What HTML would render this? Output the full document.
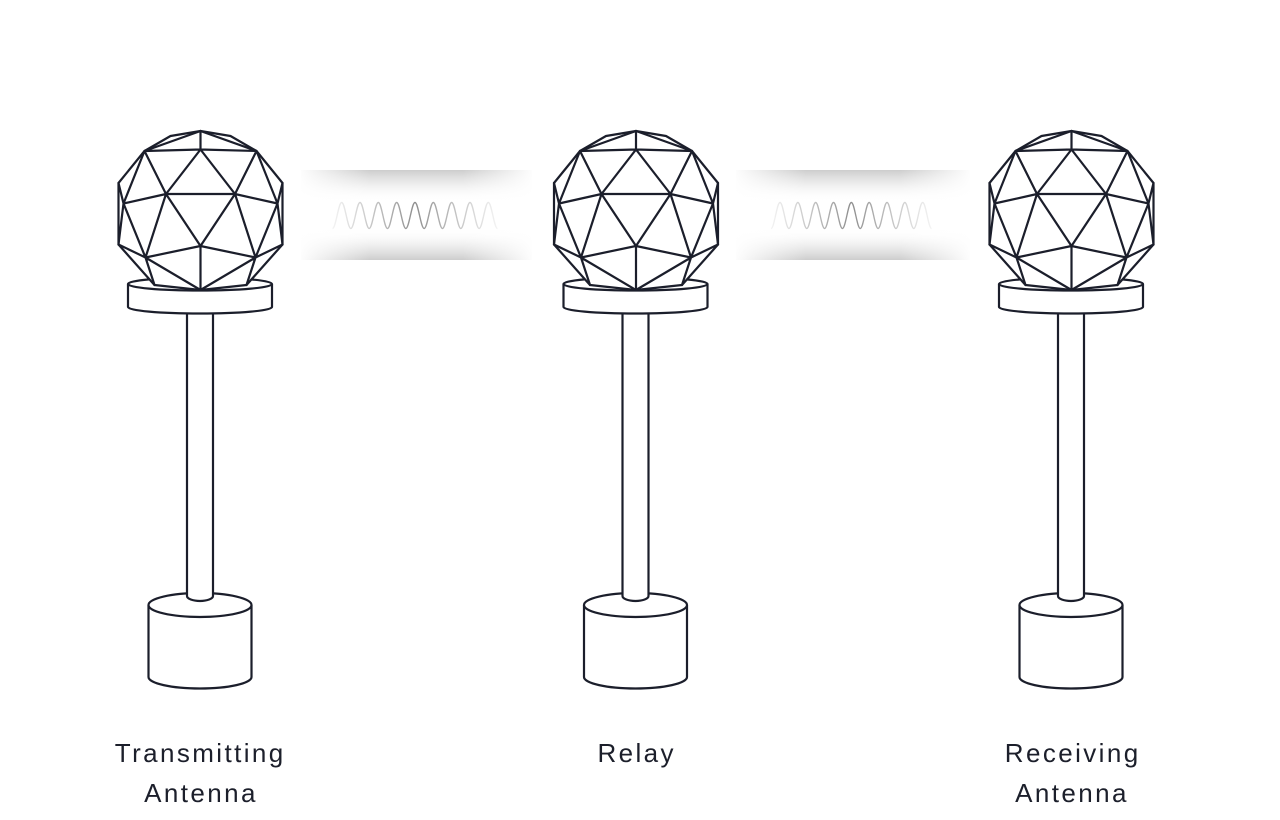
<!DOCTYPE html>
<html>
<head>
<meta charset="utf-8">
<style>
  html, body { margin: 0; padding: 0; background: #ffffff; }
  body { width: 1280px; height: 820px; overflow: hidden; }
  svg { display: block; }
  .lbl { font-family: "Liberation Sans", "DejaVu Sans", sans-serif; font-size: 26px; letter-spacing: 2.4px; fill: #1c1f2b; }
</style>
</head>
<body>
<svg width="1280" height="820" viewBox="0 0 1280 820" xmlns="http://www.w3.org/2000/svg">
  <defs>
    <linearGradient id="topBand" x1="0" y1="0" x2="0" y2="1">
      <stop offset="0" stop-color="#c4c4c4" stop-opacity="0.85"/>
      <stop offset="0.45" stop-color="#d8d8d8" stop-opacity="0.45"/>
      <stop offset="1" stop-color="#ffffff" stop-opacity="0"/>
    </linearGradient>
    <linearGradient id="botBand" x1="0" y1="1" x2="0" y2="0">
      <stop offset="0" stop-color="#c4c4c4" stop-opacity="0.85"/>
      <stop offset="0.45" stop-color="#d8d8d8" stop-opacity="0.45"/>
      <stop offset="1" stop-color="#ffffff" stop-opacity="0"/>
    </linearGradient>
    <linearGradient id="whiteEdges" x1="0" y1="0" x2="1" y2="0">
      <stop offset="0" stop-color="#ffffff" stop-opacity="0.96"/>
      <stop offset="0.08" stop-color="#ffffff" stop-opacity="0.7"/>
      <stop offset="0.3" stop-color="#ffffff" stop-opacity="0"/>
      <stop offset="0.7" stop-color="#ffffff" stop-opacity="0"/>
      <stop offset="0.92" stop-color="#ffffff" stop-opacity="0.7"/>
      <stop offset="1" stop-color="#ffffff" stop-opacity="0.96"/>
    </linearGradient>
    <linearGradient id="waveG" gradientUnits="userSpaceOnUse" x1="330" y1="0" x2="500" y2="0">
      <stop offset="0" stop-color="#8a8a8a" stop-opacity="0.08"/>
      <stop offset="0.5" stop-color="#7a7a7a" stop-opacity="0.85"/>
      <stop offset="1" stop-color="#8a8a8a" stop-opacity="0.08"/>
    </linearGradient>

    <g id="sphere">
      <path d="M0,131 L30,136 L56,151 L82,183 L82,244.5 L46,285 L0,290 L-46,285 L-82,244.5 L-82,183 L-56,151 L-30,136 Z" fill="#ffffff" stroke="#1b1e2b" stroke-width="2.2" stroke-linejoin="round"/>
      <path fill="none" stroke="#1b1e2b" stroke-width="2.2" stroke-linejoin="round" stroke-linecap="round" d="
        M0,131 L-56,151 M0,131 L56,151 M0,131 L0,149.5
        M-56,151 L0,149.5 L56,151
        M0,149.5 L-34.5,194 M0,149.5 L34.5,194
        M-56,151 L-34.5,194 M56,151 L34.5,194
        M-34.5,194 L34.5,194
        M-56,151 L-77,203.5 M56,151 L77,203.5
        M-82,183 L-77,203.5 L-82,244.5 M82,183 L77,203.5 L82,244.5
        M-34.5,194 L-77,203.5 M34.5,194 L77,203.5
        M-77,203.5 L-55,257.5 M77,203.5 L55,257.5
        M-34.5,194 L-55,257.5 M34.5,194 L55,257.5
        M-34.5,194 L0,246 L34.5,194
        M-55,257.5 L0,246 L55,257.5
        M0,246 L0,290
        M-55,257.5 L0,290 M55,257.5 L0,290
        M-55,257.5 L-46,285 M55,257.5 L46,285
        M-82,244.5 L-55,257.5 M82,244.5 L55,257.5
      "/>
    </g>

    <g id="antenna">
      <path d="M-51.5,605 L-51.5,677 A51.5,11.5 0 0 0 51.5,677 L51.5,605" fill="#ffffff" stroke="#1b1e2b" stroke-width="2.2" stroke-linejoin="round"/>
      <ellipse cx="0" cy="605" rx="51.5" ry="12" fill="#ffffff" stroke="#1b1e2b" stroke-width="2.2"/>
      <path d="M-13,300 L-13,596 A13,5 0 0 0 13,596 L13,300 Z" fill="#ffffff" stroke="#1b1e2b" stroke-width="2.2" stroke-linejoin="round"/>
      <path d="M-72,284 L-72,307 A72,6.5 0 0 0 72,307 L72,284" fill="#ffffff" stroke="#1b1e2b" stroke-width="2.2" stroke-linejoin="round"/>
      <ellipse cx="0" cy="284" rx="72" ry="6.5" fill="#ffffff" stroke="#1b1e2b" stroke-width="2.2"/>
      <use href="#sphere" x="0.5" y="0"/>
    </g>

    <path id="wave" fill="none" stroke-width="1.4" d="M332.5,228.5
      C335.84,228.5 338.33,202.5 341.67,202.5
      C345.01,202.5 347.49,228.5 350.83,228.5
      C354.17,228.5 356.66,202.5 360,202.5
      C363.34,202.5 365.82,228.5 369.16,228.5
      C372.5,228.5 374.99,202.5 378.33,202.5
      C381.67,202.5 384.15,228.5 387.49,228.5
      C390.83,228.5 393.32,202.5 396.66,202.5
      C400,202.5 402.48,228.5 405.82,228.5
      C409.16,228.5 411.65,202.5 414.99,202.5
      C418.33,202.5 420.81,228.5 424.15,228.5
      C427.49,228.5 429.98,202.5 433.32,202.5
      C436.66,202.5 439.14,228.5 442.48,228.5
      C445.82,228.5 448.31,202.5 451.65,202.5
      C454.99,202.5 457.47,228.5 460.81,228.5
      C464.15,228.5 466.64,202.5 469.98,202.5
      C473.32,202.5 475.8,228.5 479.14,228.5
      C482.48,228.5 484.97,202.5 488.31,202.5
      C491.65,202.5 494.13,228.5 497.47,228.5"/>
  </defs>

  <rect x="0" y="0" width="1280" height="820" fill="#ffffff"/>

  <!-- bands -->
  <rect x="301" y="170" width="231" height="32" fill="url(#topBand)"/>
  <rect x="301" y="228" width="231" height="32" fill="url(#botBand)"/>
  <rect x="301" y="169" width="231" height="92" fill="url(#whiteEdges)"/>

  <rect x="736" y="170" width="234" height="32" fill="url(#topBand)"/>
  <rect x="736" y="228" width="234" height="32" fill="url(#botBand)"/>
  <rect x="736" y="169" width="234" height="92" fill="url(#whiteEdges)"/>

  <use href="#wave" stroke="url(#waveG)"/>
  <g transform="matrix(0.973 0 0 1 447.56 0)">
    <use href="#wave" stroke="url(#waveG)"/>
  </g>

  <use href="#antenna" x="200" y="0"/>
  <use href="#antenna" x="635.5" y="0"/>
  <use href="#antenna" x="1071" y="0"/>

  <text class="lbl" x="200.2" y="762" text-anchor="middle">Transmitting</text>
  <text class="lbl" x="201" y="802" text-anchor="middle">Antenna</text>
  <text class="lbl" x="636.7" y="762" text-anchor="middle">Relay</text>
  <text class="lbl" x="1072.7" y="762" text-anchor="middle">Receiving</text>
  <text class="lbl" x="1072" y="802" text-anchor="middle">Antenna</text>
</svg>
</body>
</html>
